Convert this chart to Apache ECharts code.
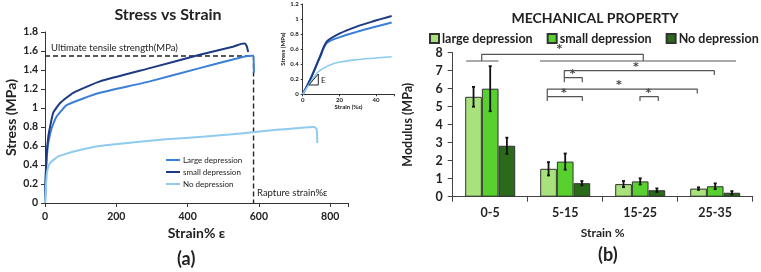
<!DOCTYPE html>
<html>
<head>
<meta charset="utf-8">
<script src="https://cdn.jsdelivr.net/npm/echarts@6/dist/echarts.min.js"></script>
<style>
  * { margin: 0; padding: 0; }
  body { background: #fff; }
  #main { width: 761px; height: 272px; }
</style>
</head>
<body>
<div id="main"></div>
<script>
// ---- panel (a): stress vs strain, [strain %, stress MPa]
var largeCurve = [[0,0],[1.5,0.2],[4,0.42],[8,0.6],[14,0.72],[20,0.80],[32.7,0.91],[60.6,1.03],[107,1.10],[154,1.16],[294,1.28],[434,1.42],[527,1.51],[564,1.545],[580,1.55],[585,1.55],[586,1.37]];
var smallCurve = [[0,0],[1.5,0.24],[4,0.48],[8,0.66],[12,0.76],[23,0.95],[42,1.05],[79,1.16],[154,1.28],[294,1.42],[434,1.56],[527,1.645],[550,1.675],[560,1.68],[566,1.65],[570,1.59]];
var noCurve = [[0,0],[3,0.2],[6,0.33],[14,0.42],[37,0.49],[61,0.52],[100,0.56],[154,0.60],[250,0.64],[339,0.67],[450,0.70],[517,0.72],[582,0.745],[650,0.77],[713,0.79],[755,0.80],[762,0.78],[764,0.63]];
var utsLine = [[0,1.547],[585,1.547],[585,0]];

// inset: first 50 % of strain
var largeInset = [[0,0],[4,0.19],[9.4,0.49],[13.1,0.68],[20.3,0.76],[29.4,0.83],[38.5,0.89],[48.5,0.955]];
var smallInset = [[0,0],[4,0.19],[9.4,0.50],[13.1,0.70],[20.3,0.81],[29.4,0.90],[38.5,0.97],[48.5,1.04]];
var noInset = [[0,0],[4,0.15],[8.5,0.30],[14.9,0.39],[20.3,0.43],[29.4,0.46],[38.5,0.48],[48.5,0.50]];
var slopeTriangle = [[3.4,0.124],[8.5,0.124],[8.5,0.27],[3.4,0.124]];

// ---- panel (b): modulus per strain range
var ranges = ['0-5', '5-15', '15-25', '25-35'];
var largeMod = [5.55, 1.55, 0.70, 0.45];
var smallMod = [6.00, 1.95, 0.85, 0.58];
var noMod = [2.83, 0.75, 0.36, 0.22];
var largeErr = [0.55, 0.37, 0.17, 0.07];
var smallErr = [1.25, 0.45, 0.17, 0.16];
var noErr = [0.45, 0.12, 0.10, 0.09];

// significance brackets, x in category units (0..4), y in MPa
var brackets = [
  [[0.18,7.54],[0.61,7.54]],
  [[0.387,7.54],[0.387,7.91],[2.541,7.91],[2.541,7.54]],
  [[1.164,7.54],[3.777,7.54]],
  [[1.488,6.36],[1.488,7.0],[3.488,7.0],[3.488,6.76]],
  [[1.488,6.61],[1.728,6.61],[1.728,6.36]],
  [[1.261,5.32],[1.261,5.98],[3.261,5.98],[3.261,5.74]],
  [[1.261,5.56],[1.728,5.56],[1.728,5.32]],
  [[2.497,5.32],[2.497,5.56],[2.741,5.56],[2.741,5.32]]
];
var stars = [[1.421,8.2],[2.444,7.22],[1.6,6.81],[2.217,6.2],[1.484,5.77],[2.608,5.77]];

var FONT = 'Lato, "Open Sans", sans-serif';
var cDark = '#1d3a82', cBlue = '#3b7fd6', cLight = '#8ecbef';
var gLight = '#a7e27c', gMid = '#58d02e', gDark = '#2a6a1a';

var chart = echarts.init(document.getElementById('main'), null, { renderer: 'canvas' });

function errSeries(name, vals, errs, k) {
  return {
    type: 'custom', name: name + ' err', xAxisIndex: 2, yAxisIndex: 2, z: 5,
    data: vals.map(function (v, i) { return [i, v - errs[i], v + errs[i]]; }),
    renderItem: function (params, api) {
      var band = api.size([1, 0])[0];
      var bw = band * (1 - 0.333) / 3;
      var c = api.coord([api.value(0), api.value(1)]);
      var top = api.coord([api.value(0), api.value(2)]);
      var x = c[0] + (k - 1) * bw;
      var st = { stroke: '#111', lineWidth: 1.8 };
      return { type: 'group', children: [
        { type: 'line', shape: { x1: x, y1: c[1], x2: x, y2: top[1] }, style: st },
        { type: 'line', shape: { x1: x - 1.5, y1: c[1], x2: x + 1.5, y2: c[1] }, style: st },
        { type: 'line', shape: { x1: x - 1.5, y1: top[1], x2: x + 1.5, y2: top[1] }, style: st }
      ] };
    }
  };
}

var axisTxt = { color: '#222', fontFamily: FONT, fontWeight: 'bold' };

var series = [
  { name: 'Large depression', type: 'line', xAxisIndex: 0, yAxisIndex: 0, data: largeCurve, showSymbol: false, smooth: 0.15, lineStyle: { color: cBlue, width: 2 }, itemStyle: { color: cBlue } },
  { name: 'small depression (a)', type: 'line', xAxisIndex: 0, yAxisIndex: 0, data: smallCurve, showSymbol: false, smooth: 0.15, lineStyle: { color: cDark, width: 2 }, itemStyle: { color: cDark } },
  { name: 'No depression (a)', type: 'line', xAxisIndex: 0, yAxisIndex: 0, data: noCurve, showSymbol: false, smooth: 0.15, lineStyle: { color: cLight, width: 2 }, itemStyle: { color: cLight } },
  { name: 'uts', type: 'line', xAxisIndex: 0, yAxisIndex: 0, data: utsLine, showSymbol: false, z: 1, lineStyle: { color: '#222', width: 1.4, type: [5, 3] } },

  { name: 'inset large', type: 'line', xAxisIndex: 1, yAxisIndex: 1, data: largeInset, showSymbol: false, smooth: 0.3, lineStyle: { color: cBlue, width: 2 } },
  { name: 'inset small', type: 'line', xAxisIndex: 1, yAxisIndex: 1, data: smallInset, showSymbol: false, smooth: 0.3, lineStyle: { color: cDark, width: 2 } },
  { name: 'inset no', type: 'line', xAxisIndex: 1, yAxisIndex: 1, data: noInset, showSymbol: false, smooth: 0.3, lineStyle: { color: cLight, width: 1.6 } },
  { name: 'slope', type: 'line', xAxisIndex: 1, yAxisIndex: 1, data: slopeTriangle, showSymbol: false, lineStyle: { color: '#222', width: 1 } },

  { name: 'large depression', type: 'bar', xAxisIndex: 2, yAxisIndex: 2, data: largeMod, barGap: '0%', barCategoryGap: '33.3%', itemStyle: { color: gLight, borderColor: '#333', borderWidth: 1 } },
  { name: 'small depression', type: 'bar', xAxisIndex: 2, yAxisIndex: 2, data: smallMod, itemStyle: { color: gMid, borderColor: '#333', borderWidth: 1 } },
  { name: 'No depression', type: 'bar', xAxisIndex: 2, yAxisIndex: 2, data: noMod, itemStyle: { color: gDark, borderColor: '#333', borderWidth: 1 } },
  errSeries('large', largeMod, largeErr, 0),
  errSeries('small', smallMod, smallErr, 1),
  errSeries('no', noMod, noErr, 2),
  { name: 'stars', type: 'scatter', xAxisIndex: 3, yAxisIndex: 3, data: stars, symbolSize: 0, clip: false,
    label: { show: true, position: 'inside', formatter: '*', color: '#111', fontSize: 11, fontWeight: 'bold', fontFamily: '"DejaVu Sans", sans-serif' } }
];
brackets.forEach(function (b, i) {
  series.push({ name: 'bracket' + i, type: 'line', xAxisIndex: 3, yAxisIndex: 3, data: b, showSymbol: false, clip: false,
    lineStyle: { color: '#555', width: 1.2 } });
});

chart.setOption({
  animation: false,
  backgroundColor: '#fff',
  textStyle: { fontFamily: FONT },
  title: [
    { text: 'Stress vs Strain', left: 163, top: 2, textAlign: 'center', textStyle: { fontSize: 16, fontWeight: 'bold', color: '#222', fontFamily: FONT } },
    { text: 'MECHANICAL PROPERTY', left: 590, top: 6, textAlign: 'center', textStyle: { fontSize: 14, fontWeight: 'bold', color: '#222', fontFamily: FONT } }
  ],
  legend: [
    { data: ['Large depression', 'small depression (a)', 'No depression (a)'], orient: 'vertical', left: 161, top: 151,
      icon: 'rect', itemWidth: 14, itemHeight: 2, itemGap: 4, selectedMode: false,
      formatter: function (n) { return n.replace(' (a)', ''); },
      textStyle: { fontSize: 8, color: '#222', fontFamily: FONT, padding: [0, 0, 0, -2] } },
    { data: ['large depression', 'small depression', 'No depression'], left: 424, top: 27, width: 340,
      icon: 'rect', itemWidth: 9, itemHeight: 9, itemGap: 14, selectedMode: false,
      textStyle: { fontSize: 12.5, fontWeight: 'bold', color: '#222', fontFamily: FONT, padding: [0, 0, 0, -2] } }
  ],
  grid: [
    { left: 45, top: 32, width: 303, height: 171 },
    { left: 302.7, top: 4, width: 91.7, height: 90.3 },
    { left: 452.7, top: 52.7, width: 300, height: 144 }
  ],
  xAxis: [
    { type: 'value', gridIndex: 0, min: 0, max: 850, interval: 200,
      name: 'Strain% ε', nameLocation: 'middle', nameGap: 22,
      nameTextStyle: { fontSize: 14, fontWeight: 'bold', color: '#222', fontFamily: FONT },
      axisLine: { lineStyle: { color: '#333' } }, axisTick: { show: true, length: 4, lineStyle: { color: '#333' } },
      axisLabel: Object.assign({ fontSize: 10.5, margin: 8, formatter: function (v) { return v === 850 ? '' : v; } }, axisTxt),
      splitLine: { show: false } },
    { type: 'value', gridIndex: 1, min: 0, max: 50, interval: 20,
      name: 'Strain (%ε)', nameLocation: 'middle', nameGap: 10,
      nameTextStyle: { fontSize: 6, fontWeight: 'bold', color: '#222', fontFamily: FONT },
      axisLine: { lineStyle: { color: '#333' } }, axisTick: { show: true, length: 2, lineStyle: { color: '#333' } },
      axisLabel: Object.assign({ fontSize: 6, margin: 3, formatter: function (v) { return v === 50 ? '' : v; } }, axisTxt),
      splitLine: { show: false } },
    { type: 'category', gridIndex: 2, data: ranges,
      name: 'Strain %', nameLocation: 'middle', nameGap: 30,
      nameTextStyle: { fontSize: 12, fontWeight: 'bold', color: '#222', fontFamily: FONT },
      axisLine: { lineStyle: { color: '#444' } }, axisTick: { show: true, length: 5, lineStyle: { color: '#444' } },
      axisLabel: Object.assign({ fontSize: 12.5, margin: 10 }, axisTxt) },
    { type: 'value', gridIndex: 2, min: 0, max: 4, show: false, position: 'top' }
  ],
  yAxis: [
    { type: 'value', gridIndex: 0, min: 0, max: 1.8, interval: 0.2,
      name: 'Stress (MPa)', nameLocation: 'middle', nameGap: 27,
      nameTextStyle: { fontSize: 14, fontWeight: 'bold', color: '#222', fontFamily: FONT },
      axisLine: { show: true, lineStyle: { color: '#333' } }, axisTick: { show: true, length: 4, lineStyle: { color: '#333' } },
      axisLabel: Object.assign({ fontSize: 10.5, margin: 7 }, axisTxt),
      splitLine: { show: false } },
    { type: 'value', gridIndex: 1, min: 0, max: 1.2, interval: 0.2,
      name: 'Stress (MPa)', nameLocation: 'middle', nameGap: 12,
      nameTextStyle: { fontSize: 6, fontWeight: 'bold', color: '#222', fontFamily: FONT },
      axisLine: { show: true, lineStyle: { color: '#333' } }, axisTick: { show: true, length: 2, lineStyle: { color: '#333' } },
      axisLabel: Object.assign({ fontSize: 6, margin: 4 }, axisTxt),
      splitLine: { show: false } },
    { type: 'value', gridIndex: 2, min: 0, max: 8, interval: 1,
      name: 'Modulus (MPa)', nameLocation: 'middle', nameGap: 38,
      nameTextStyle: { fontSize: 12.5, fontWeight: 'bold', color: '#222', fontFamily: FONT },
      axisLine: { show: true, lineStyle: { color: '#444' } }, axisTick: { show: true, length: 5, lineStyle: { color: '#444' } },
      axisLabel: Object.assign({ fontSize: 12.5, margin: 10 }, axisTxt),
      splitLine: { show: false } },
    { type: 'value', gridIndex: 2, min: 0, max: 8, show: false, position: 'right' }
  ],
  graphic: [
    { type: 'text', left: 51, top: 43, style: { text: 'Ultimate tensile strength(MPa)', fontSize: 9.5, fill: '#222', fontFamily: FONT } },
    { type: 'text', left: 257, top: 188, style: { text: 'Rapture strain%ε', fontSize: 9.5, fill: '#222', fontFamily: FONT } },
    { type: 'text', left: 321, top: 76, style: { text: 'E', fontSize: 8, fill: '#222', fontFamily: FONT } },
    { type: 'text', left: 177, top: 250, style: { text: '(a)', fontSize: 18, fontWeight: 'bold', fill: '#222', fontFamily: FONT } },
    { type: 'text', left: 598, top: 246, style: { text: '(b)', fontSize: 18, fontWeight: 'bold', fill: '#222', fontFamily: FONT } }
  ],
  series: series
});
</script>
</body>
</html>
